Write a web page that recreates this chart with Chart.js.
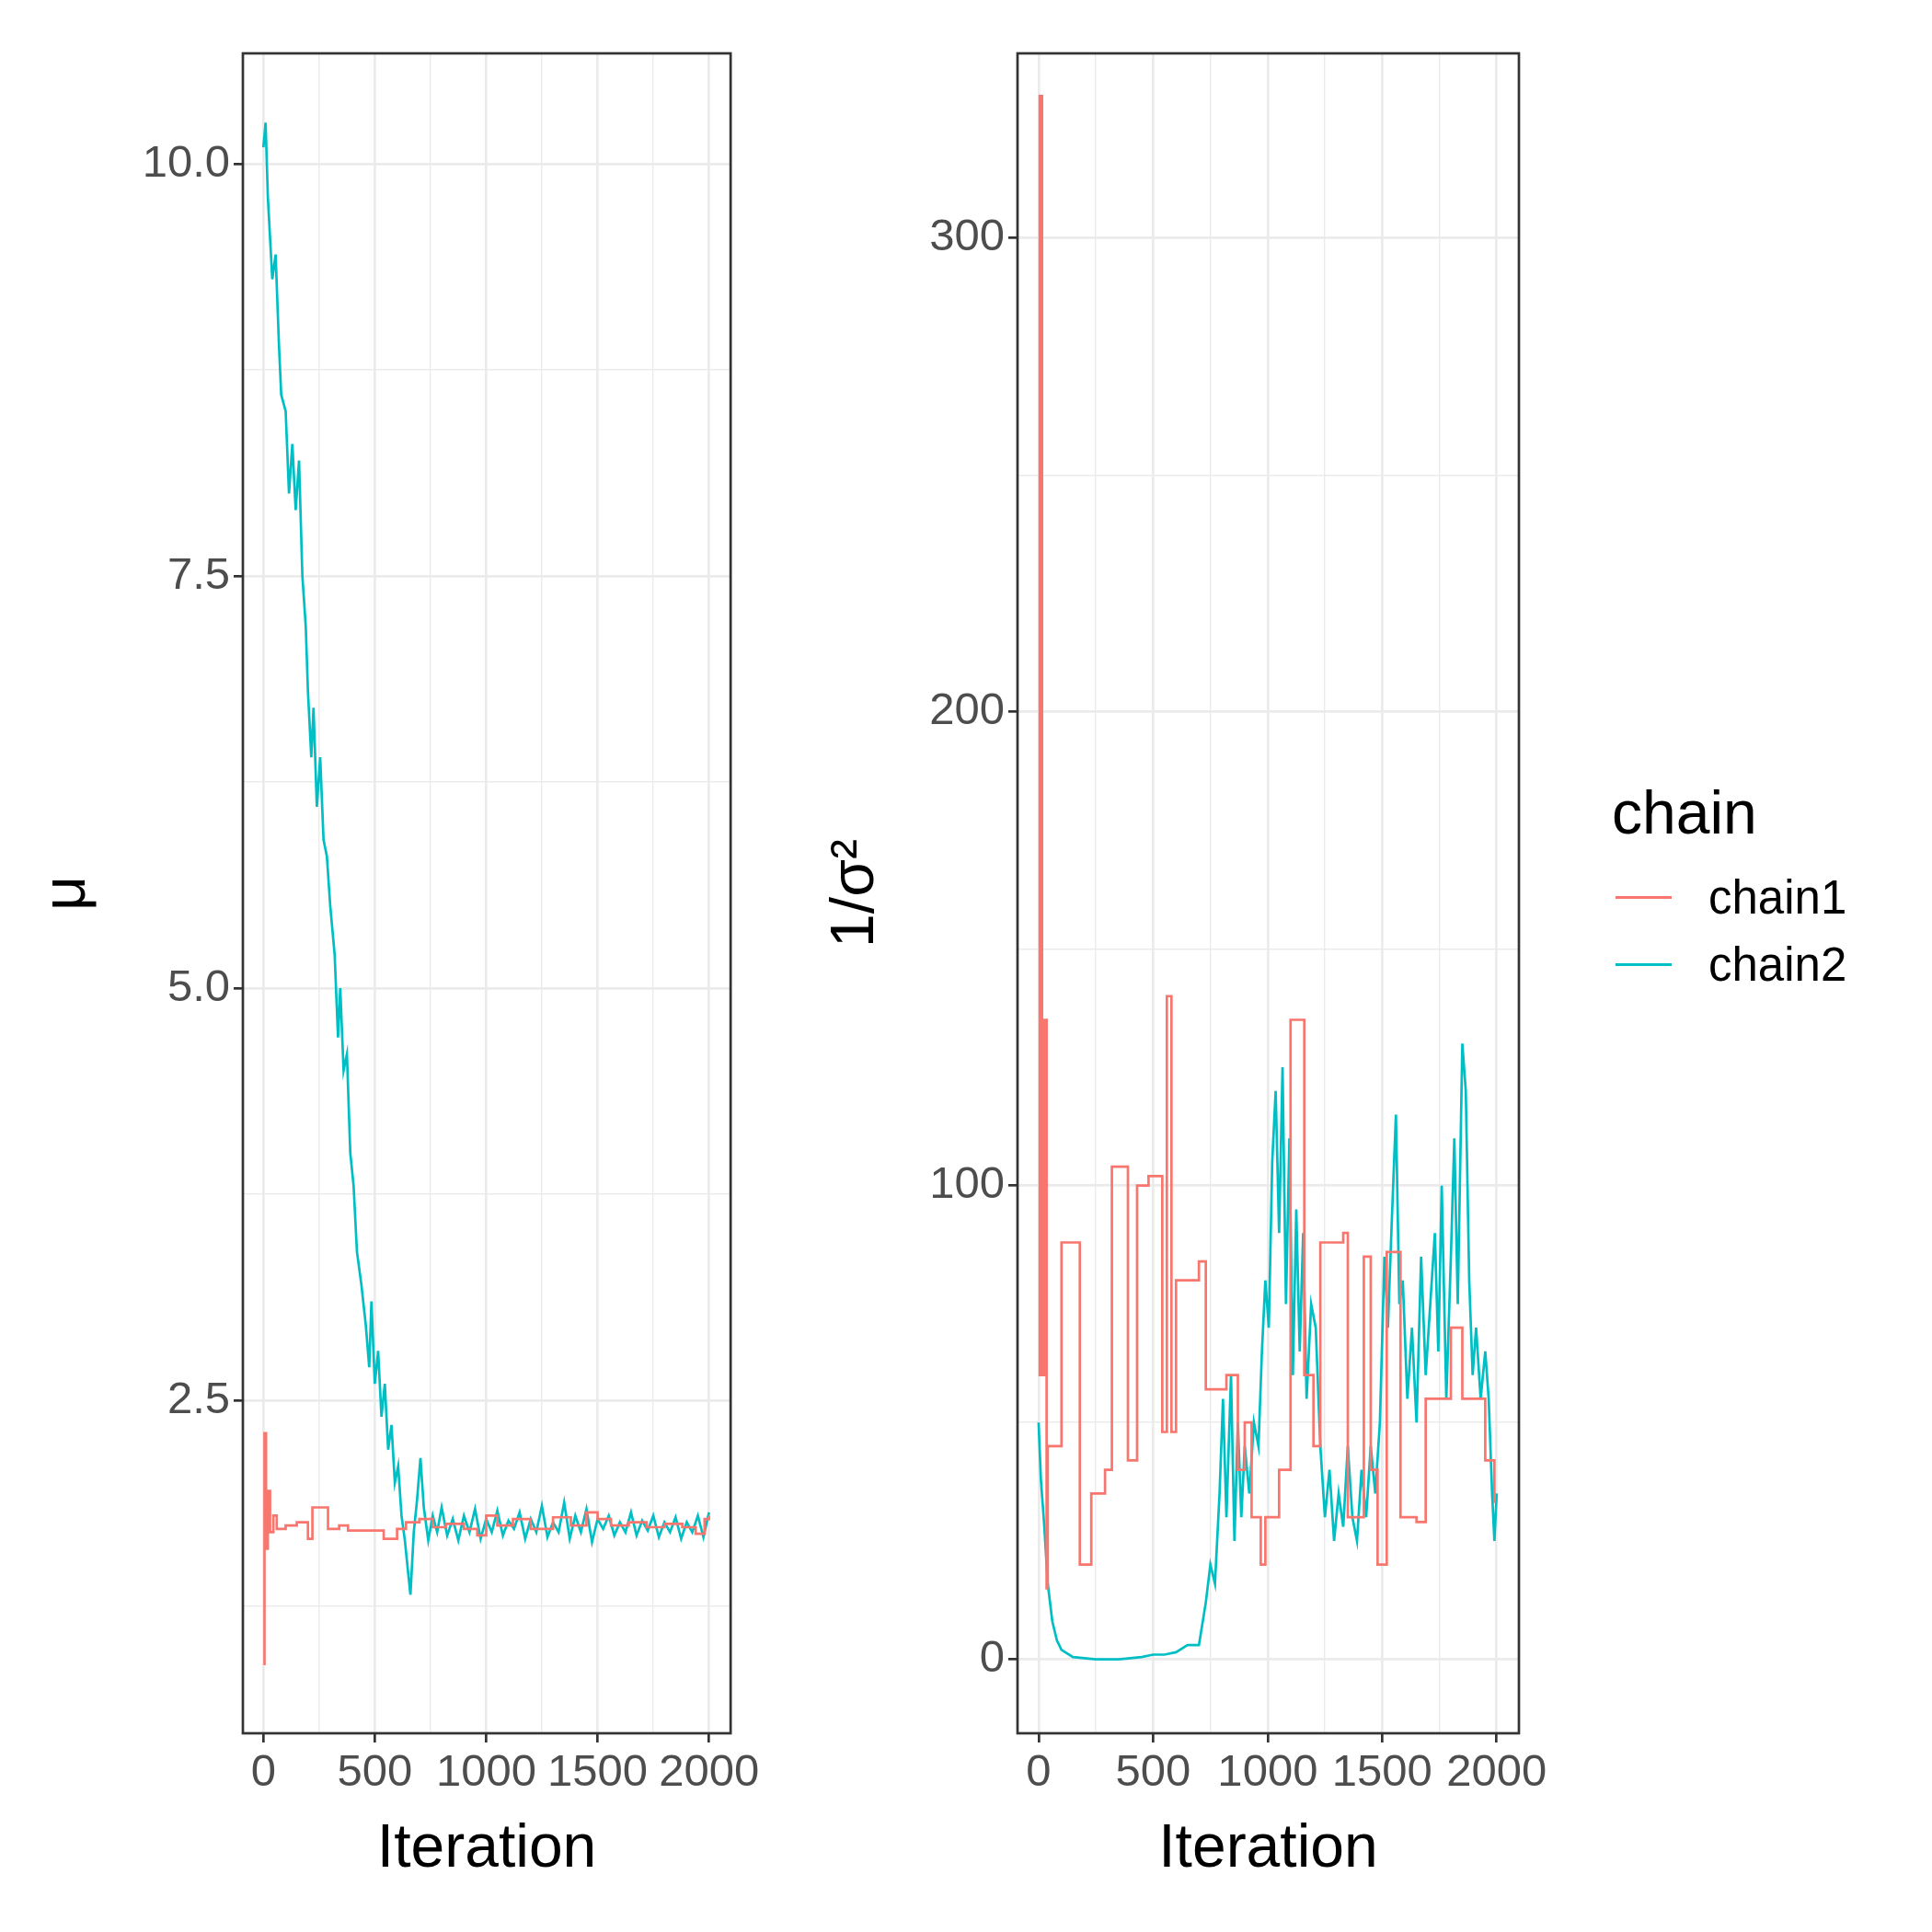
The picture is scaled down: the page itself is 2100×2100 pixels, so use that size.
<!DOCTYPE html>
<html>
<head>
<meta charset="utf-8">
<script src="https://cdn.jsdelivr.net/npm/chart.js@4.4.1/dist/chart.umd.min.js"></script>
<style>
  body { margin: 0; background: #fff; width: 2100px; height: 2100px; position: relative; font-family: Arial, "Liberation Sans", sans-serif; }
  .panel { position: absolute; top: 0; height: 2100px; }
  #legend { position: absolute; left: 1752px; top: 845px; color: #000; }
  #legend .title { font-size: 66px; margin-bottom: 18px; }
  #legend .item { display: flex; align-items: center; height: 73px; font-size: 51px; }
  #legend .key { width: 61px; height: 3px; margin: 0 40px 0 4px; }
</style>
</head>
<body>
<div class="panel" style="left:0;width:830px"><canvas id="muChart"></canvas></div>
<div class="panel" style="left:830px;width:870px"><canvas id="tauChart"></canvas></div>
<div id="legend">
  <div class="title">chain</div>
  <div class="item"><span class="key" style="background:#F8766D"></span>chain1</div>
  <div class="item"><span class="key" style="background:#00BFC4"></span>chain2</div>
</div>
<script>
// ---- data ----
const xTicks = [0, 250, 500, 750, 1000, 1250, 1500, 1750, 2000];
const muTicks = [1.25, 2.5, 3.75, 5.0, 6.25, 7.5, 8.75, 10.0];
const tauTicks = [0, 50, 100, 150, 200, 250, 300];

const muChain1 = [[0,0.9],[5,2.3],[12,1.6],[20,1.95],[30,1.7],[45,1.8],[60,1.72],[100,1.74],[150,1.76],[200,1.66],[220,1.85],[290,1.72],[340,1.74],[380,1.71],[540,1.66],[600,1.72],[640,1.76],[700,1.78],[760,1.73],[820,1.75],[900,1.72],[960,1.68],[1000,1.8],[1050,1.74],[1120,1.78],[1200,1.72],[1300,1.79],[1380,1.74],[1450,1.82],[1500,1.78],[1560,1.74],[1640,1.76],[1720,1.73],[1800,1.75],[1880,1.73],[1940,1.69],[1980,1.78],[2000,1.8]];
const muChain2 = [[0,10.1],[10,10.25],[20,9.8],[40,9.3],[55,9.45],[70,8.9],[80,8.6],[100,8.5],[115,8.0],[130,8.3],[145,7.9],[160,8.2],[175,7.5],[190,7.2],[200,6.8],[215,6.4],[225,6.7],[240,6.1],[255,6.4],[270,5.9],[285,5.8],[300,5.5],[320,5.2],[335,4.7],[345,5.0],[360,4.5],[375,4.6],[390,4.0],[405,3.8],[420,3.4],[440,3.2],[460,2.95],[475,2.7],[485,3.1],[500,2.6],[515,2.8],[530,2.4],[545,2.6],[560,2.2],[575,2.35],[590,2.0],[605,2.1],[620,1.8],[635,1.65],[650,1.45],[660,1.32],[675,1.7],[690,1.9],[705,2.15],[720,1.85],[740,1.65],[760,1.8],[780,1.7],[800,1.85],[825,1.68],[850,1.78],[875,1.65],[900,1.8],[925,1.7],[950,1.84],[975,1.66],[1000,1.78],[1025,1.7],[1050,1.83],[1075,1.68],[1100,1.77],[1125,1.72],[1150,1.82],[1175,1.66],[1200,1.78],[1225,1.7],[1250,1.86],[1275,1.67],[1300,1.76],[1325,1.7],[1350,1.88],[1375,1.66],[1400,1.8],[1425,1.7],[1450,1.84],[1475,1.64],[1500,1.78],[1525,1.72],[1550,1.8],[1575,1.68],[1600,1.76],[1625,1.7],[1650,1.82],[1675,1.68],[1700,1.77],[1725,1.71],[1750,1.8],[1775,1.67],[1800,1.76],[1825,1.7],[1850,1.79],[1875,1.66],[1900,1.76],[1925,1.7],[1950,1.8],[1975,1.67],[2000,1.82]];

const tauChain1 = [[0,60],[5,330],[15,60],[25,135],[35,15],[40,45],[100,88],[180,20],[230,35],[290,40],[320,104],[390,42],[430,100],[480,102],[540,48],[560,140],[580,48],[600,80],[700,84],[730,57],[820,60],[870,40],[900,50],[930,30],[970,20],[990,30],[1050,40],[1100,135],[1160,60],[1200,45],[1230,88],[1330,90],[1350,30],[1420,85],[1450,40],[1480,20],[1520,86],[1580,30],[1650,29],[1690,55],[1800,70],[1850,55],[1950,42],[1990,33]];
const tauChain2 = [[0,50],[10,38],[25,28],[40,16],[60,8],[80,4],[100,2],[150,0.5],[250,0],[350,0],[450,0.5],[500,1],[550,1],[600,1.5],[650,3],[700,3],[730,12],[750,20],[770,16],[790,35],[805,55],[820,30],[840,60],[855,25],[870,50],[885,30],[900,45],[920,35],[940,50],[960,45],[975,65],[990,80],[1005,70],[1020,105],[1035,120],[1050,90],[1065,125],[1080,75],[1095,110],[1110,60],[1125,95],[1140,65],[1155,90],[1170,55],[1190,75],[1210,70],[1230,45],[1250,30],[1270,40],[1290,25],[1310,35],[1330,28],[1350,45],[1370,30],[1390,25],[1410,40],[1430,30],[1450,45],[1470,35],[1490,50],[1510,85],[1525,70],[1540,90],[1560,115],[1575,75],[1590,80],[1610,55],[1630,70],[1650,50],[1670,85],[1690,60],[1710,75],[1730,90],[1745,65],[1760,100],[1780,55],[1800,85],[1815,110],[1830,75],[1850,130],[1865,120],[1880,80],[1895,60],[1910,70],[1930,55],[1950,65],[1965,55],[1980,35],[1990,25],[2000,35]];

// ---- helpers ----
const RED = '#F8766D', CYAN = '#00BFC4';

const panelBorder = {
    id: 'panelBorder',
    afterDraw(chart) {
        const a = chart.chartArea, c = chart.ctx;
        c.save();
        c.strokeStyle = '#333333';
        c.lineWidth = 2.7;
        c.strokeRect(a.left, a.top, a.right - a.left, a.bottom - a.top);
        c.restore();
    }
};

function makeChart(id, width, padLeft, yAxisWidth, padRight, yMin, yMax, yTicks, majorY, yLabel, yFmt, series1, series2) {
    const canvas = document.getElementById(id);
    canvas.width = width; canvas.height = 2100;
    const isMajorX = v => v % 500 === 0;
    return new Chart(canvas, {
        type: 'line',
        data: {
            datasets: [
                { data: series1.map(p => ({ x: p[0], y: p[1] })), borderColor: RED, borderWidth: 2.7, pointRadius: 0, stepped: true },
                { data: series2.map(p => ({ x: p[0], y: p[1] })), borderColor: CYAN, borderWidth: 2.7, pointRadius: 0 }
            ]
        },
        plugins: [panelBorder],
        options: {
            responsive: false,
            animation: false,
            events: [],
            layout: { padding: { top: 58, right: padRight, left: padLeft, bottom: 50 } },
            plugins: { legend: { display: false }, tooltip: { enabled: false } },
            scales: {
                x: {
                    type: 'linear', min: -92, max: 2097,
                    afterBuildTicks: s => { s.ticks = xTicks.map(v => ({ value: v })); },
                    afterFit: s => { s.height = 166; },
                    border: { display: false },
                    grid: {
                        color: '#EBEBEB',
                        lineWidth: c => isMajorX(c.tick.value) ? 2.7 : 1.4,
                        tickColor: c => isMajorX(c.tick.value) ? '#333333' : 'rgba(0,0,0,0)',
                        tickLength: 10, tickWidth: 2.7
                    },
                    ticks: {
                        autoSkip: false, maxRotation: 0, color: '#4D4D4D', padding: 4,
                        font: { size: 49, family: 'Arial, Liberation Sans' },
                        callback: v => isMajorX(v) ? String(v) : ''
                    },
                    title: { display: true, text: 'Iteration', color: '#000', padding: 0, font: { size: 66, family: 'Arial, Liberation Sans' } }
                },
                y: {
                    type: 'linear', min: yMin, max: yMax,
                    afterBuildTicks: s => { s.ticks = yTicks.map(v => ({ value: v })); },
                    afterFit: s => { s.width = yAxisWidth; },
                    border: { display: false },
                    grid: {
                        color: '#EBEBEB',
                        lineWidth: c => majorY(c.tick.value) ? 2.7 : 1.4,
                        tickColor: c => majorY(c.tick.value) ? '#333333' : 'rgba(0,0,0,0)',
                        tickLength: 10, tickWidth: 2.7
                    },
                    ticks: {
                        autoSkip: false, color: '#4D4D4D', padding: 4,
                        font: { size: 49, family: 'Arial, Liberation Sans' },
                        callback: v => majorY(v) ? yFmt(v) : ''
                    },
                    title: { display: true, text: yLabel, color: '#000', padding: 0, font: { size: 66, family: 'Arial, Liberation Sans' } }
                }
            }
        }
    });
}

makeChart('muChart', 830, 34, 230, 19, 0.48, 10.67, muTicks,
    v => Math.abs(v / 2.5 - Math.round(v / 2.5)) < 1e-6, 'μ', v => v.toFixed(1),
    muChain1, muChain2);

makeChart('tauChart', 870, 61, 215, 49, -15.6, 339, tauTicks,
    v => v % 100 === 0, '1/σ²', v => String(v),
    tauChain1, tauChain2);
</script>
</body>
</html>
